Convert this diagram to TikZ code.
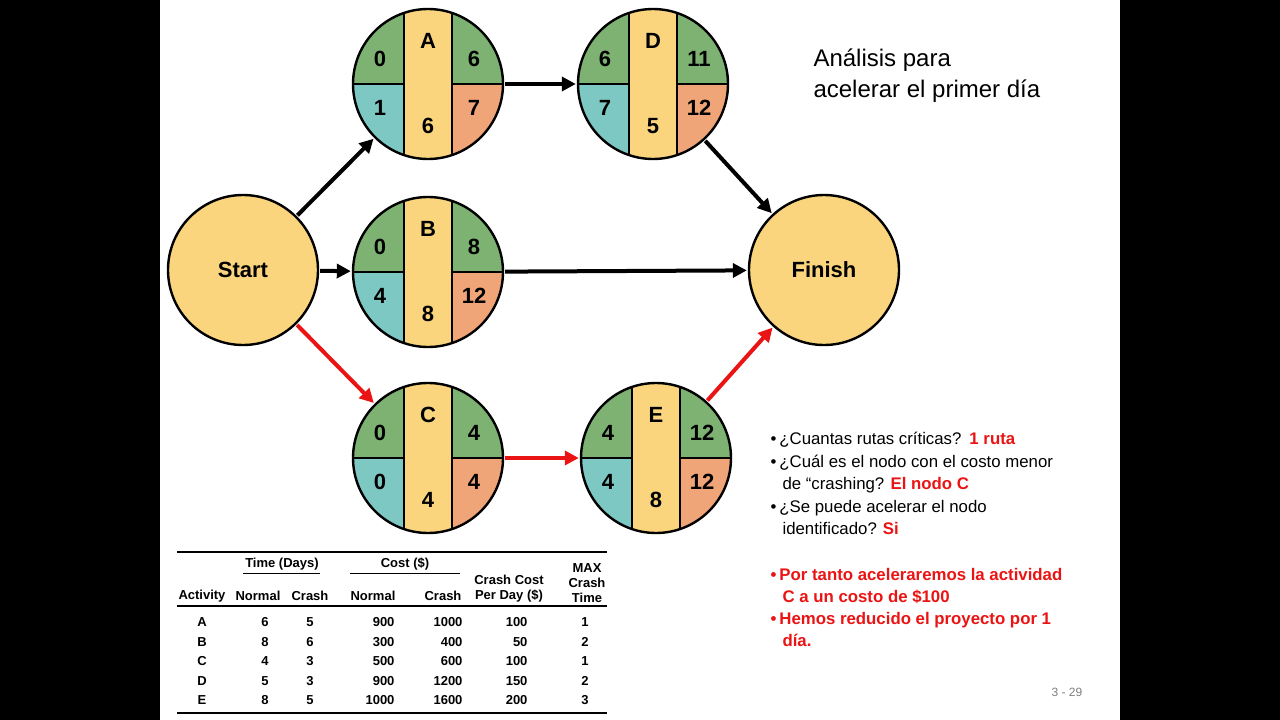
\documentclass[tikz,border=0pt]{standalone}
\usepackage{fontspec}
\setmainfont{Liberation Sans}
\usetikzlibrary{arrows.meta}
\definecolor{gr}{RGB}{125,178,115}
\definecolor{tl}{RGB}{125,200,195}
\definecolor{org}{RGB}{240,165,120}
\definecolor{yl}{RGB}{250,213,125}
\definecolor{rd}{RGB}{235,20,20}
\tikzset{
 conn/.style={line width=4pt,-{Triangle[length=14pt,width=14pt]},shorten <=1pt,shorten >=1pt},
 big/.style={circle,draw,line width=2.4pt,fill=yl,minimum size=150pt,inner sep=0pt,font=\fontsize{22}{24}\bfseries\selectfont},
 num/.style={font=\fontsize{22}{24}\bfseries\selectfont},
 tb/.style={font=\fontsize{13}{15}\bfseries\selectfont},
 bl/.style={font=\fontsize{16.8}{19}\selectfont,anchor=base west},
 rb/.style={bl,text=rd,font=\fontsize{16.8}{19}\bfseries\selectfont},
}
\newcommand{\actnode}[9]{%
 \begin{scope}
 \clip (#2,#3) circle (75pt);
 \fill[gr] (#2-80,#3-80) rectangle (#2,#3);
 \fill[gr] (#2,#3-80) rectangle (#2+80,#3);
 \fill[tl] (#2-80,#3) rectangle (#2,#3+80);
 \fill[org] (#2,#3) rectangle (#2+80,#3+80);
 \fill[yl] (#2-24,#3-80) rectangle (#2+24,#3+80);
 \draw[line width=2.4pt] (#2-24,#3-80) -- (#2-24,#3+80) (#2+24,#3-80) -- (#2+24,#3+80)
   (#2-80,#3) -- (#2-24,#3) (#2+24,#3) -- (#2+80,#3);
 \end{scope}
 \node[circle,draw,line width=2.4pt,minimum size=150pt,inner sep=0pt] (#1) at (#2,#3) {};
 \node[num] (#1l) at (#2,#3-43) {#4};
 \node[num] (#1es) at (#2-48,#3-25) {#5};
 \node[num] (#1ef) at (#2+46,#3-25) {#6};
 \node[num] (#1ls) at (#2-48,#3+24) {#7};
 \node[num] (#1lf) at (#2+46,#3+24) {#8};
 \node[num] (#1d) at (#2,#3+42) {#9};
}
\begin{document}
\begin{tikzpicture}[x=1pt,y=-1pt]
\fill[black] (0,0) rectangle (1280,720);
\fill[white] (160,0) rectangle (1120,720);
\useasboundingbox (0,0) rectangle (1280,720);
\node[big] (S) at (243,270) {Start};
\node[big] (F) at (824,270) {Finish};
\actnode{A}{428}{84}{A}{0}{6}{1}{7}{6}
\actnode{D}{653}{84}{D}{6}{11}{7}{12}{5}
\actnode{B}{428}{272}{B}{0}{8}{4}{12}{8}
\actnode{C}{428}{458}{C}{0}{4}{0}{4}{4}
\actnode{E}{656}{458}{E}{4}{12}{4}{12}{8}
\draw[conn] (S) -- (A);
\draw[conn] (S) -- (B);
\draw[conn,rd] (S) -- (C);
\draw[conn] (A) -- (D);
\draw[conn] (D) -- (F);
\draw[conn] (B) -- (F);
\draw[conn,rd] (C) -- (E);
\draw[conn,rd] (E) -- (F);
\node[font=\fontsize{24}{31}\selectfont,align=left,anchor=north west] (T) at (810,45) {Análisis para\\acelerar el primer día};
% bullets
\node[bl] (b1) at (767,444) {•\hspace{3pt}¿Cuantas rutas críticas?\hspace{8pt}\textcolor{rd}{\bfseries 1 ruta}};
\node[bl] (b2) at (767,467) {•\hspace{3pt}¿Cuál es el nodo con el costo menor};
\node[bl] (b2b) at (779,489) {de “crashing? \textcolor{rd}{\bfseries El nodo C}};
\node[bl] (b3) at (767,512) {•\hspace{3pt}¿Se puede acelerar el nodo};
\node[bl] (b3b) at (779,534) {identificado?\hspace{6pt}\textcolor{rd}{\bfseries Si}};
\node[rb] (r1) at (767,580) {•\hspace{3pt}Por tanto aceleraremos la actividad};
\node[rb] (r1b) at (779,602) {C a un costo de \$100};
\node[rb] (r2) at (767,624) {•\hspace{3pt}Hemos reducido el proyecto por 1};
\node[rb] (r2b) at (779,646) {día.};
\node[font=\fontsize{12}{14}\selectfont,text=gray] (pg) at (1067,692) {3 - 29};
% table
\draw[line width=1.6pt] (177,552) -- (607,552);
\draw[line width=0.8pt] (243,573) -- (320,573) (350,573) -- (460,573);
\draw[line width=1.2pt] (177,606) -- (607,606);
\draw[line width=1.6pt] (177,713) -- (607,713);
\node[tb] (h1) at (282,564) {Time (Days)};
\node[tb] (h2) at (405,564) {Cost (\$)};
\node[tb] (h3) at (202,596) {Activity};
\node[tb] (h4) at (258,596) {Normal};
\node[tb] (h5) at (310,596) {Crash};
\node[tb] (h6) at (373,596) {Normal};
\node[tb] (h7) at (443,596) {Crash};
\node[tb,align=center] (h8) at (509,589) {Crash Cost\\Per Day (\$)};
\node[tb,align=center] (h9) at (587,583) {MAX\\Crash\\Time};
\foreach \a/\n/\c/\cn/\cc/\pd/\m [count=\i] in {A/6/5/900/1000/100/1,B/8/6/300/400/50/2,C/4/3/500/600/100/1,D/5/3/900/1200/150/2,E/8/5/1000/1600/200/3}{
 \pgfmathsetmacro{\yy}{603+19.5*\i}
 \node[tb] at (202,\yy) {\a};
 \node[tb] at (265,\yy) {\n};
 \node[tb] at (310,\yy) {\c};
 \node[tb,anchor=east] at (398,\yy) {\cn};
 \node[tb,anchor=east] at (466,\yy) {\cc};
 \node[tb,anchor=east] at (531,\yy) {\pd};
 \node[tb] at (585,\yy) {\m};
}
\end{tikzpicture}
\end{document}
